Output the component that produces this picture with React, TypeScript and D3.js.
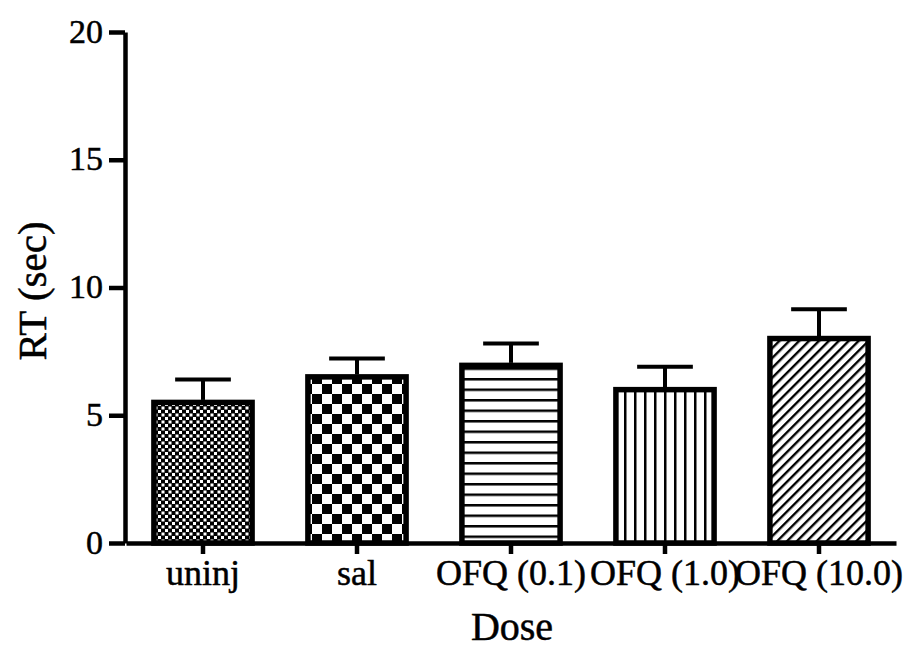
import React, { useEffect, useRef } from 'react'
import * as d3 from 'd3'

// data
const doses = ['uninj', 'sal', 'OFQ (0.1)', 'OFQ (1.0)', 'OFQ (10.0)']
const meanRT = [5.6, 6.6, 7.05, 6.1, 8.1]
const semRT = [0.8, 0.62, 0.76, 0.8, 1.05]
const yTicks = [0, 5, 10, 15, 20]
const patternIds = ['smallCheck', 'bigCheck', 'hLines', 'vLines', 'diag']

const W = 913
const H = 651
const FONT = '"Liberation Serif", "Times New Roman", serif'

const App = () => {
  const chartRef = useRef<HTMLDivElement>(null)

  useEffect(() => {
    document.body.style.margin = '0'
    drawChart(chartRef.current)
  }, [])

  const drawChart = (element: HTMLDivElement | null) => {
    if (!element) return
    d3.select(element).select('svg').remove()

    const svg = d3.select(element)
      .append('svg')
      .attr('width', W)
      .attr('height', H)
      .style('background', '#fff')

    // fill patterns
    const defs = svg.append('defs')

    const small = defs.append('pattern').attr('id', 'smallCheck')
      .attr('patternUnits', 'userSpaceOnUse').attr('width', 7).attr('height', 7)
    small.append('rect').attr('width', 7).attr('height', 7).attr('fill', '#000')
    small.append('rect').attr('x', 0.5).attr('y', 0.5).attr('width', 3).attr('height', 3).attr('fill', '#fff')
    small.append('rect').attr('x', 4).attr('y', 4).attr('width', 3).attr('height', 3).attr('fill', '#fff')

    const big = defs.append('pattern').attr('id', 'bigCheck')
      .attr('patternUnits', 'userSpaceOnUse').attr('width', 20).attr('height', 20)
      .attr('x', 2).attr('y', 4)
    big.append('rect').attr('width', 20).attr('height', 20).attr('fill', '#fff')
    big.append('rect').attr('width', 10).attr('height', 10).attr('fill', '#000')
    big.append('rect').attr('x', 10).attr('y', 10).attr('width', 10).attr('height', 10).attr('fill', '#000')

    const hl = defs.append('pattern').attr('id', 'hLines')
      .attr('patternUnits', 'userSpaceOnUse').attr('width', 10).attr('height', 10.5)
    hl.append('rect').attr('width', 10).attr('height', 10.5).attr('fill', '#fff')
    hl.append('rect').attr('y', 0).attr('width', 10).attr('height', 2.5).attr('fill', '#000')

    const vl = defs.append('pattern').attr('id', 'vLines')
      .attr('patternUnits', 'userSpaceOnUse').attr('width', 10).attr('height', 10)
      .attr('x', 4)
    vl.append('rect').attr('width', 10).attr('height', 10).attr('fill', '#fff')
    vl.append('rect').attr('x', 0).attr('width', 2.5).attr('height', 10).attr('fill', '#000')

    const dg = defs.append('pattern').attr('id', 'diag')
      .attr('patternUnits', 'userSpaceOnUse').attr('width', 7).attr('height', 7)
      .attr('patternTransform', 'rotate(45)')
    dg.append('rect').attr('width', 7).attr('height', 7).attr('fill', '#fff')
    dg.append('rect').attr('width', 2.4).attr('height', 7).attr('fill', '#000')

    // scales
    const x = d3.scaleBand()
      .domain(doses)
      .range([126, 896])
      .paddingInner(0.33)
      .paddingOuter(0.165)

    const y = d3.scaleLinear()
      .domain([0, 20])
      .range([543, 32])

    const bw = x.bandwidth()

    // bars
    const bars = svg.append('g')
    doses.forEach((d, i) => {
      const x0 = x(d) as number
      const top = y(meanRT[i])
      const errTop = y(meanRT[i] + semRT[i])
      // error bar (upper only)
      bars.append('line')
        .attr('x1', x0 + bw / 2).attr('x2', x0 + bw / 2)
        .attr('y1', top).attr('y2', errTop)
        .attr('stroke', '#000').attr('stroke-width', 4)
      bars.append('line')
        .attr('x1', x0 + bw / 2 - bw * 0.27).attr('x2', x0 + bw / 2 + bw * 0.27)
        .attr('y1', errTop).attr('y2', errTop)
        .attr('stroke', '#000').attr('stroke-width', 4)
      bars.append('rect')
        .attr('x', x0 + 2.5)
        .attr('y', top + 2.5)
        .attr('width', bw - 5)
        .attr('height', y(0) - top - 2.5)
        .attr('fill', `url(#${patternIds[i]})`)
        .attr('stroke', '#000')
        .attr('stroke-width', 5.5)
    })

    // y axis
    const yAxis = svg.append('g').attr('transform', 'translate(125,0)')
      .call(d3.axisLeft(y).tickValues(yTicks).tickSize(16).tickSizeOuter(0))
    yAxis.select('.domain').attr('stroke-width', 4.5)
    yAxis.selectAll('.tick line').attr('stroke-width', 4.5)
    yAxis.selectAll('.tick text')
      .attr('font-family', FONT).attr('font-size', 34).attr('fill', '#000')
      .attr('stroke', '#000').attr('stroke-width', 0.5)
      .attr('x', -22)
      .attr('dy', '0.3em')

    // x axis
    const xAxis = svg.append('g').attr('transform', 'translate(0,543)')
      .call(d3.axisBottom(x).tickSize(11).tickSizeOuter(0))
    xAxis.select('.domain').attr('stroke-width', 4.5)
    xAxis.selectAll('.tick line').attr('stroke-width', 4.5)
    xAxis.selectAll('.tick text')
      .attr('font-family', FONT).attr('font-size', 36).attr('fill', '#000')
      .attr('stroke', '#000').attr('stroke-width', 0.5)
      .attr('y', 42).attr('dy', 0)

    // axis titles
    svg.append('text')
      .attr('x', 512).attr('y', 640)
      .attr('text-anchor', 'middle')
      .attr('font-family', FONT).attr('font-size', 40).attr('fill', '#000')
      .attr('stroke', '#000').attr('stroke-width', 0.5)
      .text('Dose')

    svg.append('text')
      .attr('transform', 'translate(46,291) rotate(-90)')
      .attr('text-anchor', 'middle')
      .attr('font-family', FONT).attr('font-size', 41).attr('fill', '#000')
      .attr('stroke', '#000').attr('stroke-width', 0.5)
      .text('RT (sec)')
  }

  return <div ref={chartRef}></div>
}

export default App
